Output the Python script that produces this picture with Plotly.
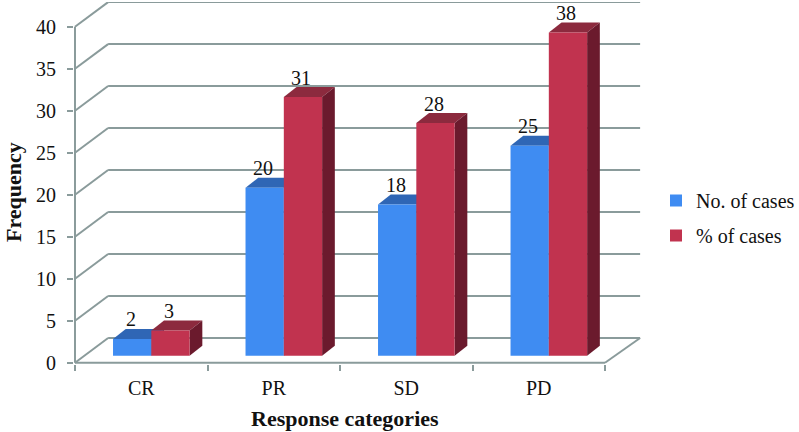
import plotly.graph_objects as go

categories = ["CR", "PR", "SD", "PD"]
no_of_cases = [2, 20, 18, 25]
pct_of_cases = [3, 30.8, 27.7, 38.5]  # drawn heights, slightly off the printed labels
pct_labels = [3, 31, 28, 38]
y_ticks = [0, 5, 10, 15, 20, 25, 30, 35, 40]

FONT = "Liberation Serif"
GRID = "#8a9b9b"
BLUE, BLUE_TOP = "#3f8cf2", "#2f66b5"
RED, RED_TOP, RED_SIDE = "#c1334f", "#8c2a3e", "#6b1a2d"
BLUE_SIDE = "#24508f"

M_L, M_R, M_T, M_B = 74, 157, 2, 68
PLOT_W, PLOT_H = 799 - M_L - M_R, 432 - M_T - M_B

# fake 3D: wall depth and bar depth in axis units
WALL_DX, WALL_DY = 0.25, 2.94
BAR_DX, BAR_DY = 0.096, 1.19
LIFT = 0.83
BAR_W = 0.289
OFF_BLUE, OFF_RED = -0.213, 0.076


def paper_x(px):
    return (px - M_L) / PLOT_W


def paper_y(px):
    return (M_T + PLOT_H - px) / PLOT_H


def poly(points, color):
    path = "M" + " L".join(f"{x},{y}" for x, y in points) + " Z"
    return dict(type="path", path=path, xref="x", yref="y", layer="below",
                fillcolor=color, line=dict(width=0))


def seg(x0, y0, x1, y1):
    return dict(type="line", x0=x0, y0=y0, x1=x1, y1=y1, xref="x", yref="y",
                layer="below", line=dict(color=GRID, width=2))


def bar_faces(i, value, offset, top, side):
    x0 = i + offset
    x1 = x0 + BAR_W
    y0 = LIFT
    y1 = LIFT + value
    return [
        poly([(x0, y1), (x1, y1), (x1 + BAR_DX, y1 + BAR_DY), (x0 + BAR_DX, y1 + BAR_DY)], top),
        poly([(x1, y0), (x1, y1), (x1 + BAR_DX, y1 + BAR_DY), (x1 + BAR_DX, y0 + BAR_DY)], side),
    ]


shapes = []
for t in y_ticks:
    shapes.append(seg(-0.5, t, -0.5 + WALL_DX, t + WALL_DY))
    shapes.append(seg(-0.5 + WALL_DX, t + WALL_DY, 3.5 + WALL_DX + 0.015, t + WALL_DY))
shapes.append(seg(-0.5, 0, -0.5, 40))
shapes.append(seg(-0.5, 0, 3.5, 0))
shapes.append(seg(3.5, 0, 3.5 + WALL_DX + 0.015, WALL_DY))

for i in range(len(categories)):
    shapes += bar_faces(i, no_of_cases[i], OFF_BLUE, BLUE_TOP, BLUE_SIDE)
    shapes += bar_faces(i, pct_of_cases[i], OFF_RED, RED_TOP, RED_SIDE)

annotations = []
for i in range(len(categories)):
    annotations.append(dict(x=i + OFF_BLUE + BAR_W / 2 - 0.012, y=LIFT + no_of_cases[i] + 2.32,
                            text=str(no_of_cases[i]), showarrow=False))
    annotations.append(dict(x=i + OFF_RED + BAR_W / 2 - 0.012, y=LIFT + pct_of_cases[i] + 2.32,
                            text=str(pct_labels[i]), showarrow=False))
annotations.append(dict(x=paper_x(345), y=paper_y(418), xref="paper", yref="paper", showarrow=False,
                        xanchor="center", yanchor="middle",
                        text="<b>Response categories</b>", font=dict(size=22)))
annotations.append(dict(x=paper_x(13), y=paper_y(192), xref="paper", yref="paper", showarrow=False,
                        xanchor="center", yanchor="middle",
                        text="<b>Frequency</b>", textangle=-90, font=dict(size=22)))

fig = go.Figure()
fig.add_trace(go.Bar(x=categories, y=no_of_cases, base=LIFT, offset=OFF_BLUE, width=BAR_W,
                     name="No. of cases", marker=dict(color=BLUE, line=dict(width=0)),
                     legendgroup="a"))
fig.add_trace(go.Bar(x=categories, y=pct_of_cases, base=LIFT, offset=OFF_RED, width=BAR_W,
                     name="% of cases", marker=dict(color=RED, line=dict(width=0)),
                     legendgroup="b"))

fig.update_layout(
    width=799, height=432,
    margin=dict(l=M_L, r=M_R, t=M_T, b=M_B, autoexpand=False),
    paper_bgcolor="white", plot_bgcolor="white",
    font=dict(family=FONT, size=20, color="#111111"),
    barmode="overlay",
    shapes=shapes,
    annotations=annotations,
    legend=dict(x=paper_x(656), y=paper_y(181), xanchor="left", yanchor="top",
                traceorder="grouped", tracegroupgap=6, bgcolor="rgba(0,0,0,0)", font=dict(size=20)),
    xaxis=dict(type="category", categoryorder="array", categoryarray=categories,
               range=[-0.5075, 3.7792], tickson="boundaries", ticks="outside", ticklen=6,
               tickwidth=2, tickcolor=GRID, showline=False, showgrid=False, zeroline=False,
               ticklabelstandoff=10),
    yaxis=dict(range=[-0.15, 42.95], tickvals=y_ticks, ticks="outside", ticklen=6,
               tickwidth=2, tickcolor=GRID, showline=False, showgrid=False, zeroline=False,
               ticklabelstandoff=7),
)

fig.write_html("out.html", config=dict(displayModeBar=False),
               post_script="document.body.style.margin='0';")
